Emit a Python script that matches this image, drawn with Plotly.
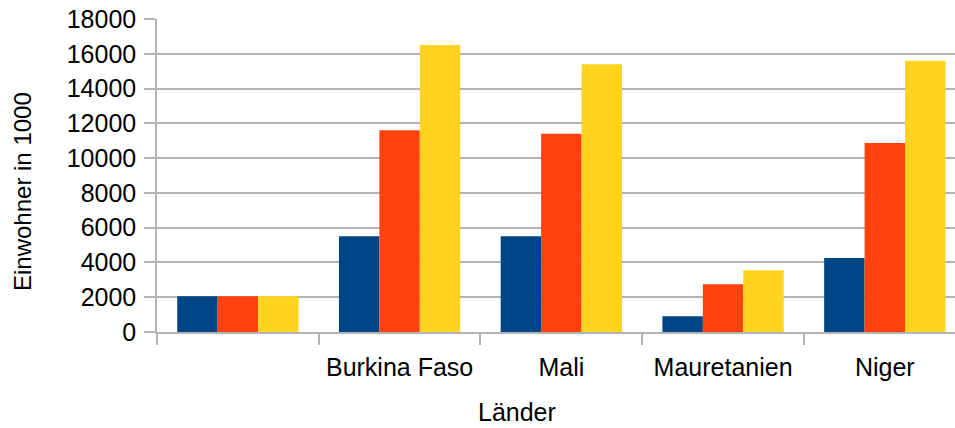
import plotly.graph_objects as go

# Population per country (in thousands), three reference years
countries = ["", "Burkina Faso", "Mali", "Mauretanien", "Niger"]
series_names = ["Reihe 1", "Reihe 2", "Reihe 3"]
series_values = [
    [2050, 5500, 5500, 900, 4250],
    [2050, 11600, 11400, 2750, 10870],
    [2050, 16500, 15400, 3550, 15600],
]
series_colors = ["#004586", "#ff420e", "#ffd320"]
y_ticks = [0, 2000, 4000, 6000, 8000, 10000, 12000, 14000, 16000, 18000]

W, H = 955, 428
left, top, bottom = 157, 19.3, 96.3
font = "Liberation Sans, Arial, sans-serif"
grid = "#b3b3b3"

# category keys keep the unnamed first group distinct on a category axis
keys = [f"k{i}" for i in range(len(countries))]

fig = go.Figure()
for name, vals, col in zip(series_names, series_values, series_colors):
    fig.add_trace(go.Bar(
        x=keys, y=vals, name=name,
        marker=dict(color=col, line=dict(width=0)),
        showlegend=False,
    ))

fig.update_layout(
    width=W, height=H,
    margin=dict(l=left, r=0, t=top, b=bottom, pad=0),
    paper_bgcolor="white", plot_bgcolor="white",
    barmode="group", bargap=0.25, bargroupgap=0,
    font=dict(family=font, size=25, color="black"),
    xaxis=dict(
        type="category", categoryorder="array", categoryarray=keys,
        tickmode="array", tickvals=keys, ticktext=countries,
        range=[-0.5, 4.434], tickson="boundaries",
        ticks="outside", ticklen=11, tickcolor=grid, tickwidth=1.5,
        ticklabelstandoff=12,
        showline=True, linecolor=grid, linewidth=1.5,
        showgrid=False, zeroline=False,
        tickfont=dict(family=font, size=25, color="black"),
        fixedrange=True,
    ),
    yaxis=dict(
        range=[0, 18000], tickmode="array", tickvals=y_ticks,
        ticktext=[str(v) for v in y_ticks],
        ticks="outside", ticklen=11, tickcolor=grid, tickwidth=1.5,
        ticklabelstandoff=3,
        showline=True, linecolor=grid, linewidth=1.5,
        showgrid=True, gridcolor=grid, gridwidth=1.5,
        zeroline=False,
        tickfont=dict(family=font, size=25, color="black"),
        fixedrange=True,
    ),
    annotations=[
        dict(text="Länder", xref="paper", yref="paper",
             x=(517 - left) / (W - left), y=(331.7 - 412) / 312.4,
             xanchor="center", yanchor="middle", showarrow=False,
             font=dict(family=font, size=25, color="black")),
        dict(text="Einwohner in 1000", xref="paper", yref="paper",
             x=(22 - left) / (W - left), y=(331.7 - 192) / 312.4,
             xanchor="center", yanchor="middle", showarrow=False, textangle=-90,
             font=dict(family=font, size=24, color="black")),
    ],
)

fig.write_html("out.html", config={"displayModeBar": False})
